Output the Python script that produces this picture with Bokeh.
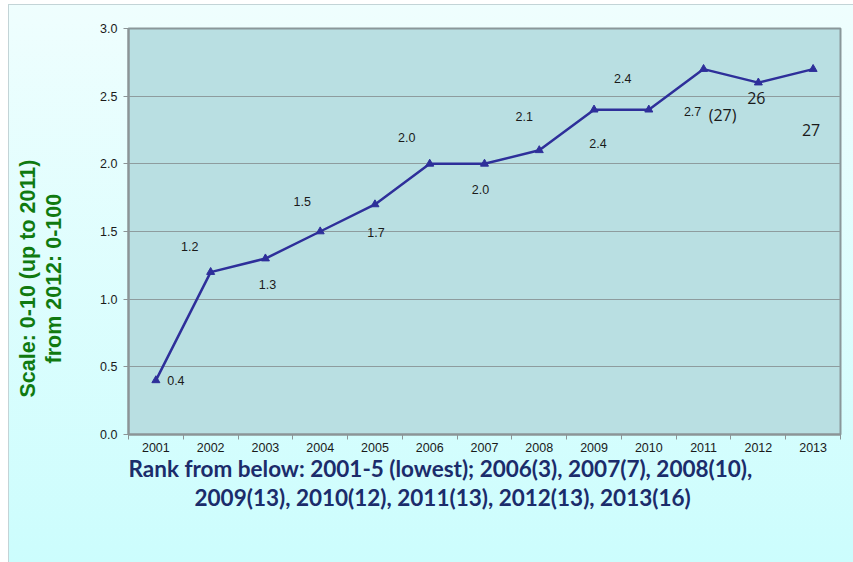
from bokeh.plotting import figure
from bokeh.models import (Range1d, FixedTicker, PrintfTickFormatter, Title,
                          LinearAxis, ColumnDataSource)
from bokeh.core.properties import value
from bokeh.embed import file_html
from bokeh.resources import INLINE

# ---- data ----
years = [2001, 2002, 2003, 2004, 2005, 2006, 2007, 2008, 2009, 2010, 2011, 2012, 2013]
scores = [0.4, 1.2, 1.3, 1.5, 1.7, 2.0, 2.0, 2.1, 2.4, 2.4, 2.7, 2.6, 2.7]
small_label_years = [2001, 2002, 2003, 2004, 2005, 2006, 2007, 2008, 2009, 2010, 2011]
small_labels = ["0.4", "1.2", "1.3", "1.5", "1.7", "2.0", "2.0", "2.1", "2.4", "2.4", "2.7"]
big_label_years = [2011, 2012, 2013]
big_labels = ["(27)", "26", "27"]
y_ticks = [0.0, 0.5, 1.0, 1.5, 2.0, 2.5, 3.0]
y_title_1 = "Scale: 0-10 (up to 2011)"
y_title_2 = "from 2012: 0-100"
x_title_1 = "Rank from below: 2001-5 (lowest); 2006(3), 2007(7), 2008(10),"
x_title_2 = "2009(13), 2010(12), 2011(13), 2012(13), 2013(16)"

# ---- label placement (screen offsets, px) ----
small_dx = [20, -21, 2, -18, 1, -23, -4, -15, 4, -26, -11]
small_dy = [0, -26, 26, -30, 28, -26, 26, -34, 34, -31, 42]
big_dx = [19, -2, -2]
big_dy = [46, 15, 61]

score_of = dict(zip(years, scores))

p = figure(frame_width=712, frame_height=406,
           min_border_left=119, min_border_top=23, min_border_right=13,
           min_border_bottom=128,
           x_range=Range1d(years[0] - 0.5, years[-1] + 0.5),
           y_range=Range1d(0, 3),
           output_backend="svg", toolbar_location=None)

p.border_fill_alpha = 0
p.styles = {"background": "linear-gradient(#effefe, #ccfdfd)",
            "border-left": "1px solid #c3d4d7",
            "border-top": "1px solid #c3d4d7",
            "margin-left": "8px", "margin-top": "4px"}
p.background_fill_color = "#b9dfe2"
p.outline_line_color = "#8a979a"
p.outline_line_width = 2

# axes
p.xgrid.visible = False
p.ygrid.grid_line_color = "#8e9c9e"
p.ygrid.grid_line_width = 1.2

yax = p.yaxis[0]
yax.ticker = FixedTicker(ticks=y_ticks)
yax.formatter = PrintfTickFormatter(format="%.1f")
yax.axis_line_color = "#8c9496"
yax.axis_line_width = 2
yax.major_tick_line_color = "#8c9496"
yax.major_tick_out = 5
yax.major_tick_in = 0
yax.minor_tick_line_color = None
yax.major_label_text_font = "Liberation Sans"
yax.major_label_text_font_size = "12.5px"
yax.major_label_text_color = "#1a1a1a"
yax.major_label_standoff = 6

xax = p.xaxis[0]
xax.ticker = FixedTicker(ticks=years, minor_ticks=[y - 0.5 for y in years] + [years[-1] + 0.5])
xax.formatter = PrintfTickFormatter(format="%d")
xax.axis_line_color = "#8c9496"
xax.axis_line_width = 2
xax.major_tick_out = 0
xax.major_tick_in = 0
xax.minor_tick_line_color = "#8c9496"
xax.minor_tick_out = 5
xax.minor_tick_in = 0
xax.major_label_text_font = "Liberation Sans"
xax.major_label_text_font_size = "12.5px"
xax.major_label_text_color = "#1a1a1a"
xax.major_label_standoff = 3

# nearly invisible spacer axis between tick labels and the y title
spacer = LinearAxis(ticker=FixedTicker(ticks=[0.0]), axis_line_color=None,
                    major_tick_line_color="#ccfdfd", major_tick_line_width=0.05,
                    minor_tick_line_color=None,
                    major_tick_out=31, major_tick_in=0, minor_tick_out=0,
                    major_label_overrides={0.0: ""}, major_label_standoff=0)
p.add_layout(spacer, "left")

yt2 = Title(text=y_title_2, align="left", offset=71, standoff=0,
            vertical_align="middle", text_line_height=1.0,
            text_font="Liberation Sans", text_font_style="bold",
            text_font_size="21.5px", text_color="#107a10")
yt1 = Title(text=y_title_1, align="left", offset=37, standoff=0,
            vertical_align="middle", text_line_height=1.0,
            text_font="Liberation Sans", text_font_style="bold",
            text_font_size="21.5px", text_color="#107a10")
p.add_layout(yt2, "left")
p.add_layout(yt1, "left")

t1 = Title(text=x_title_1, align="left", offset=0, standoff=0,
           vertical_align="top", text_line_height=1.05,
           text_font="Lato", text_font_style="bold", text_font_size="22.5px",
           text_color="#1b2c6b")
t2 = Title(text=x_title_2, align="left", offset=66, standoff=0,
           vertical_align="top", text_line_height=1.05,
           text_font="Lato", text_font_style="bold", text_font_size="22.5px",
           text_color="#1b2c6b")
p.add_layout(t1, "below")
p.add_layout(t2, "below")

# line + markers
p.line(years, scores, line_color="#2e2f9a", line_width=2.5)
p.scatter(years, scores, marker="triangle", size=8, fill_color="#2e2f9a",
          line_color="#2e2f9a")

small_src = ColumnDataSource(dict(
    x=small_label_years, y=[score_of[y] for y in small_label_years],
    text=small_labels, dx=small_dx, dy=small_dy))
p.text(x="x", y="y", text="text", x_offset="dx", y_offset="dy", source=small_src,
       text_font=value("Liberation Sans"), text_font_size="12.5px",
       text_color="#1a1a1a", text_align="center", text_baseline="middle")

big_src = ColumnDataSource(dict(
    x=big_label_years, y=[score_of[y] for y in big_label_years],
    text=big_labels, dx=big_dx, dy=big_dy))
p.text(x="x", y="y", text="text", x_offset="dx", y_offset="dy", source=big_src,
       text_font=value("Open Sans"), text_font_size="16px",
       text_color="#1a1a1a", text_align="center", text_baseline="middle")

open("out.html", "w").write(file_html(p, INLINE))
